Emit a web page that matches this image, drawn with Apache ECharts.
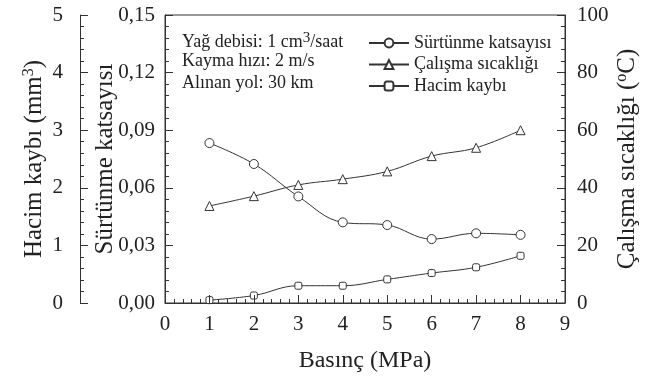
<!DOCTYPE html>
<html>
<head>
<meta charset="utf-8">
<script src="https://cdn.jsdelivr.net/npm/echarts@6/dist/echarts.min.js"></script>
<style>
  html, body { margin: 0; padding: 0; background: #fff; }
  #chart { width: 650px; height: 378px; }
</style>
</head>
<body>
<div id="chart"></div>
<script>
var pressure = [1, 2, 3, 4, 5, 6, 7, 8];
var friction = [0.0833, 0.0724, 0.0555, 0.0420, 0.0406, 0.0333, 0.0363, 0.0355];
var temperature = [33.7, 37.1, 41.0, 43.0, 45.7, 51.0, 53.9, 60.0];
var volumeLoss = [0.05, 0.13, 0.30, 0.30, 0.41, 0.52, 0.62, 0.82];
var seriesNames = ['Sürtünme katsayısı', 'Çalışma sıcaklığı', 'Hacim kaybı'];
var notes = ['Yağ debisi: 1 cm{sup|3}/saat', 'Kayma hızı: 2 m/s', 'Alınan yol: 30 km'];

var FONT = '"Liberation Serif", "Times New Roman", serif';
var INK = '#222';
var LINE = '#333';

function pairs(ys) {
    return pressure.map(function(x, i) { return [x, ys[i]]; });
}

var supRich = {
    sup: { fontSize: 16, fontFamily: FONT, color: INK, verticalAlign: 'top', lineHeight: 26 }
};

function yAxisBase(extra) {
    var axis = {
        type: 'value',
        z: 10,
        axisLine: { show: true, onZero: false, lineStyle: { color: LINE, width: 1 } },
        axisTick: { show: true, inside: true, length: 8, lineStyle: { color: LINE, width: 1 } },
        minorTick: { show: true, splitNumber: 5, length: 4, lineStyle: { color: LINE, width: 1 } },
        splitLine: { show: false },
        axisLabel: { fontFamily: FONT, fontSize: 21, color: INK },
        nameLocation: 'middle',
        nameRotate: 90,
        nameMoveOverlap: false,
        nameTextStyle: { fontFamily: FONT, fontSize: 25, color: INK, rich: supRich }
    };
    for (var k in extra) axis[k] = extra[k];
    return axis;
}

var chart = echarts.init(document.getElementById('chart'));
var option = {
    animation: false,
    grid: {
        left: 165, right: 85, top: 15, bottom: 75,
        show: true, borderColor: LINE, borderWidth: 1, backgroundColor: 'transparent'
    },
    legend: {
        data: seriesNames,
        orient: 'vertical',
        left: 368,
        top: 34,
        padding: 0,
        itemGap: 3.5,
        itemWidth: 40,
        itemHeight: 11,
        textStyle: { fontFamily: FONT, fontSize: 18, color: INK, lineHeight: 18 }
    },
    graphic: notes.map(function(t, i) {
        return {
            type: 'text',
            left: 182,
            top: 31 + i * 21.5,
            style: {
                text: t,
                font: '18px ' + FONT,
                fill: INK,
                rich: { sup: { fontSize: 15, fontFamily: FONT, fill: INK, verticalAlign: 'top', lineHeight: 22 } }
            }
        };
    }),
    xAxis: {
        type: 'value',
        z: 10,
        min: 0, max: 9, interval: 1,
        name: 'Basınç (MPa)',
        nameLocation: 'middle',
        nameGap: 46,
        nameMoveOverlap: false,
        nameTextStyle: { fontFamily: FONT, fontSize: 24, color: INK },
        axisLine: { show: true, onZero: false, lineStyle: { color: LINE, width: 1 } },
        axisTick: { show: true, inside: true, length: 8, lineStyle: { color: LINE, width: 1 } },
        minorTick: { show: true, splitNumber: 5, length: 4, lineStyle: { color: LINE, width: 1 } },
        splitLine: { show: false },
        axisLabel: { fontFamily: FONT, fontSize: 21, color: INK, margin: 11 }
    },
    yAxis: [
        yAxisBase({
            position: 'left',
            min: 0, max: 0.15, interval: 0.03,
            name: 'Sürtünme katsayısı',
            nameGap: 47,
            axisLabel: {
                fontFamily: FONT, fontSize: 21, color: INK, margin: 10,
                formatter: function(v) { return v.toFixed(2).replace('.', ','); }
            }
        }),
        yAxisBase({
            position: 'left',
            offset: 85,
            min: 0, max: 5, interval: 1,
            name: 'Hacim kaybı (mm{sup|3})',
            nameGap: 33,
            axisLabel: { fontFamily: FONT, fontSize: 21, color: INK, margin: 17 }
        }),
        yAxisBase({
            position: 'right',
            min: 0, max: 100, interval: 20,
            name: 'Çalışma sıcaklığı ({sup|o}C)',
            nameGap: 49,
            axisLabel: { fontFamily: FONT, fontSize: 21, color: INK, margin: 12 }
        })
    ],
    series: [
        {
            name: seriesNames[0], type: 'line', yAxisIndex: 0,
            data: pairs(friction), smooth: 0.4,
            symbol: 'circle', symbolSize: 9,
            lineStyle: { color: LINE, width: 1 },
            itemStyle: { color: '#fff', borderColor: LINE, borderWidth: 1 }
        },
        {
            name: seriesNames[1], type: 'line', yAxisIndex: 2,
            data: pairs(temperature), smooth: 0.4,
            symbol: 'triangle', symbolSize: 9,
            lineStyle: { color: LINE, width: 1 },
            itemStyle: { color: '#fff', borderColor: LINE, borderWidth: 1 }
        },
        {
            name: seriesNames[2], type: 'line', yAxisIndex: 1,
            data: pairs(volumeLoss), smooth: 0.4,
            symbol: 'roundRect', symbolSize: 7,
            lineStyle: { color: LINE, width: 1 },
            itemStyle: { color: '#fff', borderColor: LINE, borderWidth: 1 }
        }
    ]
};
chart.setOption(option);
</script>
</body>
</html>
